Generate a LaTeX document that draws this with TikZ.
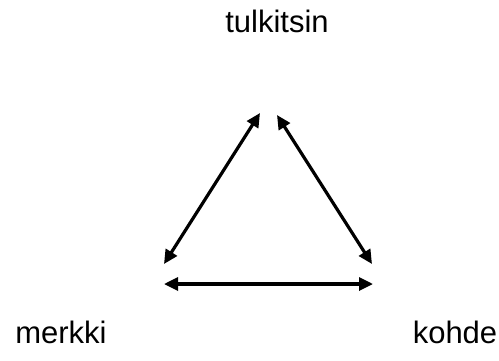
\documentclass[tikz,border=0pt]{standalone}
\usepackage{fontspec}
\setmainfont{Liberation Sans}
\usetikzlibrary{arrows.meta, positioning}

\begin{document}
\begin{tikzpicture}[
  x=1pt, y=-1pt,
  font=\fontsize{31}{36}\selectfont,
  >={Triangle[length=14pt, width=13pt]},
  lbl/.style={inner sep=0pt, anchor=base},
  arr/.style={<->, line width=3.2pt, draw=black},
  ]
\useasboundingbox (0,0) rectangle (499,360);
\node[lbl] (tulkitsin) at (277,32) {tulkitsin};
\node[lbl] (merkki) at (61,343) {merkki};
\node[lbl] (kohde) at (455,343) {kohde};
% free ends of the three arrows
\coordinate (mTop) at (260,113);
\coordinate (mBot) at (164,264);
\coordinate (kTop) at (277,115);
\coordinate (kBot) at (372,264);
\coordinate (hL) at (164,284);
\coordinate (hR) at (373,284);
\draw[arr] (mBot) -- (mTop);
\draw[arr] (kTop) -- (kBot);
\draw[arr] (hL) -- (hR);
\end{tikzpicture}
\end{document}
